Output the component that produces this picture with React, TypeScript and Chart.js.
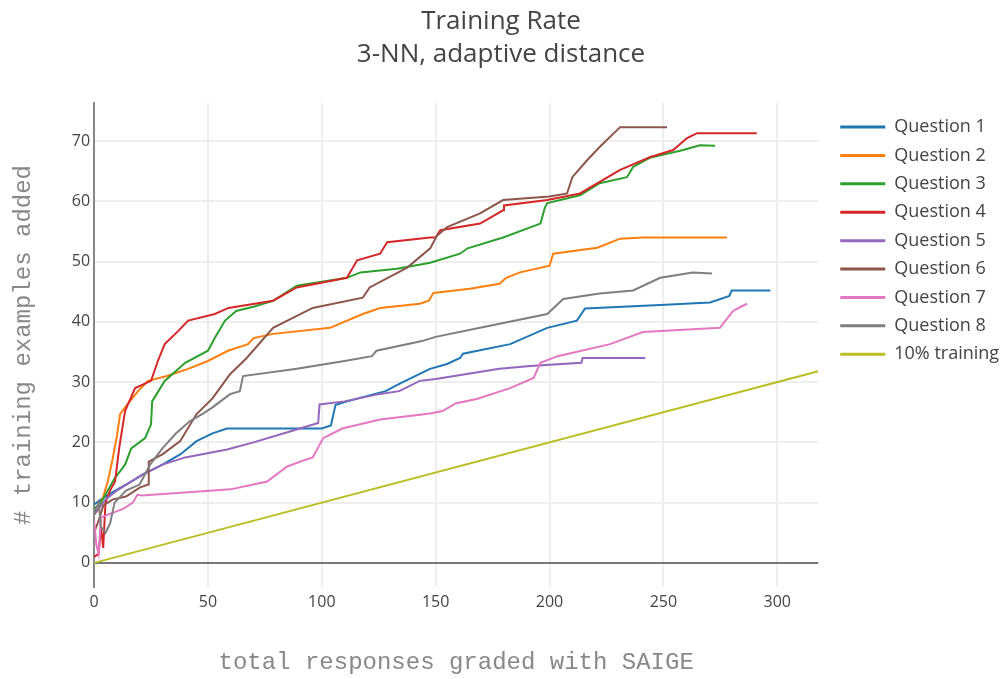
import React, { useEffect, useRef } from 'react';
import { Chart, registerables } from 'chart.js';

Chart.register(...registerables);

const titleLines = ['Training Rate', '3-NN, adaptive distance'];
const xTitle = 'total responses graded with SAIGE';
const yTitle = '# training examples added';

const seriesNames = [
  'Question 1', 'Question 2', 'Question 3', 'Question 4', 'Question 5',
  'Question 6', 'Question 7', 'Question 8', '10% training',
];
const seriesColors = [
  '#1f77b4', '#ff7f0e', '#2ca02c', '#d62728', '#9467bd',
  '#8c564b', '#e377c2', '#7f7f7f', '#bcbd22',
];

const q1: number[][] = [[0,9.7],[3,10.5],[8.3,11.8],[15,13.2],[21.5,14.7],[30,16.3],[37.8,18],[45,20.2],[52,21.5],[58.4,22.3],[100,22.3],[104,22.8],[106,26.2],[110,26.7],[128,28.5],[134,29.7],[147.5,32.2],[155,33],[160.7,34],[162,34.7],[182.7,36.3],[199,39],[212,40.2],[215.6,42.2],[248.6,42.8],[270.5,43.2],[279,44.3],[280,45.2],[297,45.2]];
const q2: number[][] = [[0,8],[2,9],[4,11],[6,13.5],[8,17],[10,21],[11.4,24.7],[14,26],[19.3,28.5],[23.7,30.2],[32,31],[41.3,32.2],[50,33.5],[58.8,35.2],[67.6,36.3],[70,37.3],[78.6,38],[103.6,39],[118,41.3],[125.6,42.3],[143,43],[147,43.5],[149,44.8],[165,45.5],[178,46.3],[181,47.3],[187,48.2],[200,49.3],[201.6,51.3],[221,52.3],[231,53.8],[241,54],[278,54]];
const q3: number[][] = [[0,9],[3,10],[6,12],[9,14],[13.6,16.3],[16.3,19],[22.4,20.7],[25,23],[25.5,26.8],[31,30.2],[40,33.2],[50,35.2],[53,37.3],[57.5,40.2],[62.4,41.8],[70,42.5],[78.6,43.5],[89,46],[111,47.3],[117,48.2],[133,48.8],[147.6,49.8],[160.7,51.3],[164,52.2],[179.6,54],[196,56.3],[198,59],[199,59.7],[213.4,61],[222,63],[234,64],[236.7,65.7],[244,67.2],[258.7,68.5],[266,69.3],[272.7,69.2]];
const q4: number[][] = [[0,1],[2,1.5],[3,6],[4,2.5],[5,10],[7,12],[9.2,13.5],[11,19],[13.6,25.2],[18,29],[25,30.2],[28,33.5],[31,36.3],[37,38.5],[41.3,40.2],[53,41.3],[59,42.3],[78.6,43.5],[89,45.7],[111,47.3],[115.5,50.2],[125.6,51.3],[128.7,53.2],[147.6,54],[150,54],[152,55.2],[169.5,56.3],[179.6,58.5],[180,59.3],[199,60.2],[213.4,61.3],[231,65.2],[244,67.3],[254.3,68.5],[260.4,70.5],[264.8,71.3],[291,71.3]];
const q5: number[][] = [[0,8],[2,9],[5,10.5],[10,12],[15,13.2],[21.5,14.7],[30,16.3],[40,17.5],[58.4,18.8],[70,20],[86,21.8],[98.4,23.2],[99,26.3],[110,26.8],[125,28],[134,28.5],[143,30.2],[150,30.5],[178,32.2],[193,32.7],[214,33.2],[214.5,34],[242,34]];
const q6: number[][] = [[0,5],[2,7],[4,9.5],[8,10.5],[14,11],[20,12.5],[23.7,13],[24,16.8],[30,18],[37.8,20.2],[45,24.7],[52,27.3],[56.6,29.7],[59.7,31.3],[67,34],[78.6,39],[96,42.3],[118,44],[121,45.7],[137.5,49],[147.6,52.2],[150.6,54.3],[155,55.7],[169.5,58],[179.6,60.2],[200,60.8],[207.7,61.3],[210,64],[216.5,66.8],[222,69],[231,72.3],[251.6,72.3]];
const q7: number[][] = [[0,7],[1,3],[2,1.5],[3,7.5],[6,8],[13,9],[17,10],[19,11.3],[21,11.2],[60,12.2],[76,13.5],[84.8,16],[92,17],[96,17.5],[100.6,20.7],[109,22.3],[125.6,23.8],[147.6,24.8],[153,25.2],[159,26.5],[168,27.2],[182.7,29],[193,30.7],[196,33.2],[203.5,34.3],[226.6,36.3],[241,38.3],[274.8,39],[280.6,41.8],[284,42.5],[286.8,43]];
const q8: number[][] = [[0,8],[2,10],[3,6],[5,5],[7,6.5],[9,10],[14,12],[20,13],[24.6,16.3],[30,19],[36,21.5],[42,23.5],[48,24.8],[52,25.8],[59.7,28],[64,28.5],[65.4,31],[89,32.2],[110,33.5],[122,34.3],[124,35.2],[144,36.8],[150,37.5],[169.5,39],[199,41.3],[206,43.8],[222,44.7],[236.7,45.2],[248.6,47.3],[263,48.2],[271.4,48]];
const train10: number[][] = [[0,0],[318,31.8]];

const xTicks = [0, 50, 100, 150, 200, 250, 300];
const yTicks = [0, 10, 20, 30, 40, 50, 60, 70];
const xRange = [0, 318];
const yRange = [-4, 76.3];

export default function App() {
  const ref = useRef<HTMLCanvasElement>(null);
  useEffect(() => {
    if (!ref.current) return;
    const series = [q1, q2, q3, q4, q5, q6, q7, q8, train10];
    const n = series.length;
    const layoutFix = {
      id: 'layoutFix',
      afterLayout(chart: any) {
        const lg = chart.legend;
        if (lg) {
          const dx = chart.chartArea.right + 11.6 - lg.left;
          lg.left += dx;
          lg.right += dx;
          lg.top += 4.6;
          lg.bottom += 4.6;
        }
        const tb = chart.titleBlock;
        if (tb) {
          tb.left = 0;
          tb.right = chart.width;
        }
      },
    };
    const chart = new Chart(ref.current, {
      type: 'line',
      data: {
        datasets: series.map((s, i) => ({
          label: seriesNames[i],
          data: s.map(([x, y]) => ({ x, y })),
          borderColor: seriesColors[i],
          backgroundColor: seriesColors[i],
          borderWidth: 2,
          pointRadius: 0,
          tension: 0,
          fill: false,
          order: n - i,
        })),
      },
      options: {
        animation: false,
        responsive: false,
        layout: { padding: { left: 0, right: 4.5, top: 0, bottom: 0 } },
        plugins: {
          tooltip: { enabled: false },
          title: {
            display: true,
            text: titleLines,
            color: '#444',
            font: { family: 'Open Sans', size: 26, weight: 'normal', lineHeight: 1.27 },
            padding: { top: 5.5, bottom: 31.5 },
          },
          legend: {
            position: 'right',
            align: 'start',
            fullSize: false,
            labels: {
              boxWidth: 45,
              boxHeight: 3,
              padding: 10.4,
              color: '#444',
              font: { family: 'Open Sans', size: 18 },
              sort: (a: any, b: any) => a.datasetIndex - b.datasetIndex,
              generateLabels: (c: any) =>
                Chart.defaults.plugins.legend.labels
                  .generateLabels(c)
                  .map((l: any) => ({ ...l, lineWidth: 0, fillStyle: l.strokeStyle })),
            },
          },
        },
        scales: {
          x: {
            type: 'linear',
            min: xRange[0],
            max: xRange[1],
            afterBuildTicks: (axis: any) => {
              axis.ticks = xTicks.map((v) => ({ value: v }));
            },
            grid: { color: '#eeeeee', lineWidth: 2, drawTicks: false },
            border: { display: false },
            ticks: {
              color: '#444',
              padding: 6,
              font: { family: 'Open Sans', size: 16 },
              maxRotation: 0,
            },
            title: {
              display: true,
              text: xTitle,
              color: '#888',
              font: { family: 'Liberation Mono', size: 24 },
              padding: { top: 30, bottom: 2 },
            },
          },
          y: {
            type: 'linear',
            min: yRange[0],
            max: yRange[1],
            afterBuildTicks: (axis: any) => {
              axis.ticks = yTicks.map((v) => ({ value: v }));
            },
            grid: {
              color: (ctx: any) => (ctx.tick && ctx.tick.value === 0 ? '#777' : '#eeeeee'),
              lineWidth: 2,
              drawTicks: false,
            },
            border: { display: true, color: '#888', width: 2 },
            ticks: {
              color: '#444',
              padding: 4,
              font: { family: 'Open Sans', size: 16 },
            },
            title: {
              display: true,
              text: yTitle,
              color: '#888',
              font: { family: 'Liberation Mono', size: 24 },
              padding: { top: 9, bottom: 30 },
            },
          },
        },
      },
      plugins: [layoutFix],
    } as any);
    return () => chart.destroy();
  }, []);
  return (
    <div style={{ position: 'absolute', left: 0, top: 0, width: 1002, height: 679 }}>
      <canvas ref={ref} width={1002} height={679} style={{ display: 'block' }} />
    </div>
  );
}
